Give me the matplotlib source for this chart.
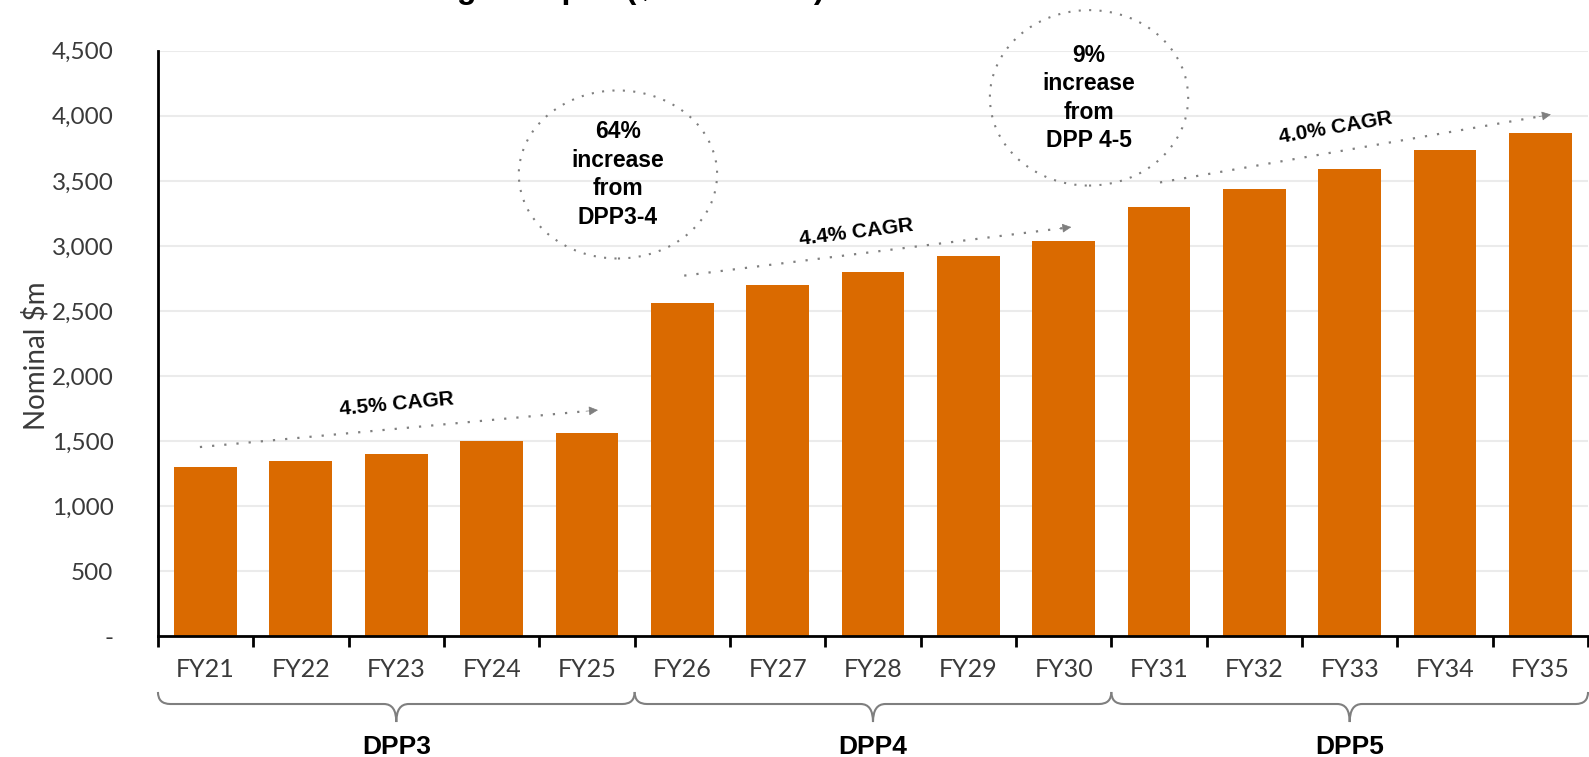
import numpy as np
import matplotlib
matplotlib.use('Agg')
import matplotlib.pyplot as plt
import matplotlib.transforms as mtransforms
from matplotlib import font_manager
from matplotlib.patches import Ellipse, PathPatch
from matplotlib.path import Path
from matplotlib.ticker import FuncFormatter, MultipleLocator

# Data (nominal $m)
years = ['FY21', 'FY22', 'FY23', 'FY24', 'FY25',
         'FY26', 'FY27', 'FY28', 'FY29', 'FY30',
         'FY31', 'FY32', 'FY33', 'FY34', 'FY35']
capex = [1300, 1350, 1400, 1500, 1560,
         2560, 2700, 2800, 2920, 3040,
         3300, 3440, 3590, 3735, 3870]
periods = ['DPP3', 'DPP4', 'DPP5']
period_len = 5
cagr_labels = ['4.5% CAGR', '4.4% CAGR', '4.0% CAGR']
step_labels = ['64%\nincrease\nfrom\nDPP3-4', '9%\nincrease\nfrom\nDPP 4-5']

BAR = '#DA6A00'
GREY = '#7F7F7F'
TXT = '#3A3A3A'

names = {f.name for f in font_manager.fontManager.ttflist}
axis_font = 'Liberation Sans Narrow' if 'Liberation Sans Narrow' in names else 'Lato'
bold_font = 'Liberation Sans'

fig = plt.figure(figsize=(15.89, 7.57), dpi=100)
ax = fig.add_axes([0.0994, 0.1593, 0.9, 0.7737])

x = np.arange(len(years))
ax.bar(x, capex, width=0.66, color=BAR, zorder=2)

ax.set_xlim(-0.5, len(years) - 0.5)
ax.set_ylim(0, 4500)
ax.yaxis.set_major_locator(MultipleLocator(500))
ax.yaxis.set_major_formatter(FuncFormatter(lambda v, p: '-' if v == 0 else f'{v:,.0f}'))
ax.grid(axis='y', color='#EBEBEB', lw=1.5, zorder=0)
ax.set_axisbelow(True)

for s in ['top', 'right']:
    ax.spines[s].set_visible(False)
for s in ['left', 'bottom']:
    ax.spines[s].set_linewidth(2)
    ax.spines[s].set_color('black')

ax.set_xticks(x)
ax.set_xticklabels(years)
ax.set_xticks(np.arange(-0.5, len(years), 1), minor=True)
ax.tick_params(axis='x', which='major', length=0, pad=15.5)
ax.tick_params(axis='x', which='minor', length=8, width=2, direction='out')
ax.tick_params(axis='y', length=0, pad=32)
for lab in ax.get_xticklabels():
    lab.set_fontfamily(axis_font)
    lab.set_fontsize(18)
    lab.set_color(TXT)
for lab in ax.get_yticklabels():
    lab.set_fontfamily(axis_font)
    lab.set_fontsize(17.5)
    lab.set_color(TXT)

fig.text(0.0223, 0.530, 'Nominal $m', rotation=90, ha='center', va='center',
         family=axis_font, fontsize=20, color=TXT)

# Title, mostly cut off by the top edge in the reference
fig.text(0.519, 1.003, 'Forecast grid capex ($m nominal)', ha='right', va='baseline',
         family=bold_font, fontweight='bold', fontsize=23, color='black')

# CAGR arrows (dotted line + solid head)
arrows = [((-0.06, 1455), (4.115, 1739), (2.0, 1785)),
          ((5.02, 2772), (9.08, 3145), (6.82, 3105)),
          ((10.01, 3488), (14.11, 4010), (11.85, 3905))]
for (p0, p1, pt), lab in zip(arrows, cagr_labels):
    ax.plot([p0[0], p1[0]], [p0[1], p1[1]], ls=(0, (1, 4.5)), lw=1.6, color=GREY,
            clip_on=False, zorder=3)
    d0 = ax.transData.transform(p0)
    d1 = ax.transData.transform(p1)
    ang = np.degrees(np.arctan2(d1[1] - d0[1], d1[0] - d0[0]))
    back = ax.transData.inverted().transform(d1 - (d1 - d0) / np.hypot(*(d1 - d0)) * 12)
    ax.annotate('', xy=p1, xytext=back,
                arrowprops=dict(arrowstyle='-|>', color=GREY, lw=0.5,
                                mutation_scale=14, shrinkA=0, shrinkB=0),
                annotation_clip=False)
    ax.text(pt[0], pt[1], lab, rotation=ang, rotation_mode='anchor', ha='center', va='center',
            family=bold_font, fontweight='bold', fontsize=15, color='black')

# Dotted circles with step-change notes
circles = [(4.325, 3549, 2.08, 1291), (9.266, 4138, 2.08, 1348)]
for (cx, cy, w, h), lab in zip(circles, step_labels):
    ax.add_patch(Ellipse((cx, cy), w, h, fill=False, ec=GREY, lw=1.5,
                         ls=(0, (1, 4)), clip_on=False, zorder=3))
    ax.text(cx, cy, lab, ha='center', va='center', linespacing=1.3,
            family=bold_font, fontweight='bold', fontsize=16.5, color='black')

# Braces below the category labels
bt = mtransforms.blended_transform_factory(ax.transData, fig.transFigure)
y_top, y_mid, y_bot = 0.0859, 0.0700, 0.0462
r = 0.13
for i, name in enumerate(periods):
    x0 = i * period_len - 0.5
    x1 = x0 + period_len
    xc = (x0 + x1) / 2
    verts = [(x0, y_top), (x0, y_mid), (x0 + r, y_mid),
             (xc - r, y_mid),
             (xc, y_mid), (xc, y_bot),
             (xc, y_mid), (xc + r, y_mid),
             (x1 - r, y_mid),
             (x1, y_mid), (x1, y_top)]
    codes = [Path.MOVETO, Path.CURVE3, Path.CURVE3,
             Path.LINETO,
             Path.CURVE3, Path.CURVE3,
             Path.CURVE3, Path.CURVE3,
             Path.LINETO,
             Path.CURVE3, Path.CURVE3]
    ax.add_patch(PathPatch(Path(verts, codes), transform=bt, fill=False,
                           ec=GREY, lw=1.5, clip_on=False))
    fig.text(xc, 0.0135, name, transform=bt, ha='center', va='center',
             family=bold_font, fontweight='bold', fontsize=19, color='black')

fig.savefig('out.png', dpi=100)
